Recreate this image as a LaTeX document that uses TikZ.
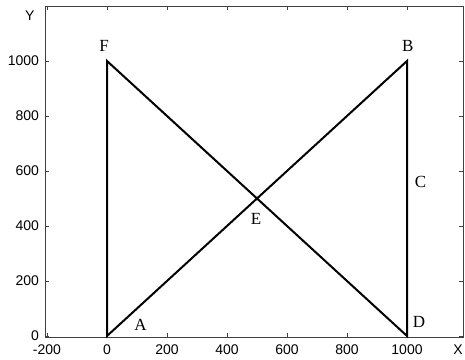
\documentclass[tikz,border=0pt]{standalone}
\usepackage{fontspec}
\setmainfont{Liberation Serif}
\setsansfont{Liberation Sans}

\begin{document}
\begin{tikzpicture}[x=0.3pt,y=0.275pt,
  every node/.style={font=\sffamily\fontsize{14}{14}\selectfont},
  ptlabel/.style={font=\rmfamily\fontsize{17}{17}\selectfont},
  frame/.style={line width=0.7pt,black!75},
  bar/.style={line width=2pt,line join=miter}]
  \useasboundingbox (-356.7,-87.3) rectangle (1193.3,1221.8);
  % frame and ticks
  \coordinate (SW) at (-205,-4);
  \coordinate (NE) at (1187,1200);
  \draw[frame] (SW) rectangle (NE);
  \foreach \x in {-200,0,...,1000} {
    \draw[frame] (\x,-4) -- ++(0,14);
    \draw[frame] (\x,1200) -- ++(0,-14);
    \node (tx\x) at (\x,-50) {\x};
  }
  \foreach \y in {0,200,...,1000} {
    \draw[frame] (-205,\y) -- ++(13,0);
    \draw[frame] (1187,\y) -- ++(-13,0);
    \node[left] (ty\y) at (-215,\y) {\y};
  }
  \node (ylab) at (-257,1164) {Y};
  \node (xlab) at (1170,-51) {X};
  % the truss
  \coordinate (A) at (0,0);
  \coordinate (B) at (1000,1000);
  \coordinate (D) at (1000,0);
  \coordinate (F) at (0,1000);
  \coordinate (E) at (500,500);
  \draw[bar] (F) -- (A) -- (B) -- (D) -- cycle;
  \node[ptlabel] (lA) at (112,40) {A};
  \node[ptlabel] (lB) at (1003,1055) {B};
  \node[ptlabel] (lC) at (1045,560) {C};
  \node[ptlabel] (lD) at (1040,50) {D};
  \node[ptlabel] (lE) at (497,425) {E};
  \node[ptlabel] (lF) at (-10,1055) {F};
\end{tikzpicture}
\end{document}
